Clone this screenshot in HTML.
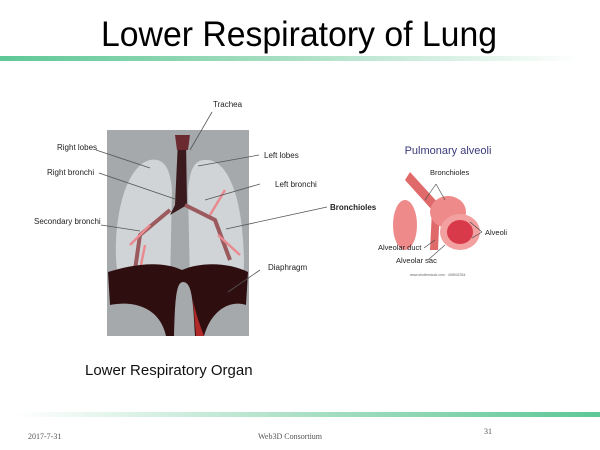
<!DOCTYPE html>
<html><head><meta charset="utf-8"><style>
html,body{margin:0;padding:0;background:#fff;}
body{width:600px;height:450px;overflow:hidden;position:relative;font-family:"Liberation Sans",sans-serif;}
</style></head><body>
<svg width="600" height="450" viewBox="0 0 600 450" xmlns="http://www.w3.org/2000/svg" style="position:absolute;left:0;top:0">
<defs>
<linearGradient id="g1" x1="0" x2="1"><stop offset="0" stop-color="#5ec896"/><stop offset="0.5" stop-color="#a9dfc4"/><stop offset="1" stop-color="#ffffff"/></linearGradient>
<linearGradient id="g2" x1="0" x2="1"><stop offset="0" stop-color="#ffffff"/><stop offset="0.5" stop-color="#a9dfc4"/><stop offset="1" stop-color="#5ec896"/></linearGradient>
</defs>
<text x="101" y="46" font-size="35" textLength="396" lengthAdjust="spacingAndGlyphs" fill="#000" font-family="Liberation Sans, DejaVu Sans, sans-serif">Lower Respiratory of Lung</text>
<rect x="0" y="56" width="580" height="5" fill="url(#g1)"/>
<rect x="15" y="412" width="585" height="5" fill="url(#g2)"/>

<!-- lung image -->
<rect x="107" y="130" width="142" height="206" fill="#a5a9ab"/>
<path d="M150,160 C130,165 118,200 116,240 C115,265 118,285 125,290 L170,285 L172,190 C170,165 162,158 150,160Z" fill="#d6d8da" opacity="0.9"/>
<path d="M205,160 C225,158 240,190 243,240 C245,265 244,285 238,290 L190,285 L188,190 C190,168 195,160 205,160Z" fill="#d6d8da" opacity="0.9"/>
<path d="M178,140 L186,138 L187,205 L170,215 L175,205Z" fill="#3a1a1c"/>
<path d="M175,135 L190,135 L188,150 L177,150Z" fill="#6a2a30"/>
<path d="M170,210 L140,235 L135,270 M185,205 L215,220 L230,260" stroke="#9a5a5e" stroke-width="4" fill="none"/>
<path d="M150,225 L130,245 M145,245 L138,280 M210,215 L225,190 M218,235 L240,255" stroke="#e88a90" stroke-width="2.5" fill="none"/>
<path d="M108,272 C140,262 165,262 182,270 C200,262 228,262 248,272 L246,305 C232,300 212,308 204,336 L195,336 C193,300 192,282 183,282 C176,282 175,300 174,336 L166,336 C160,308 135,300 110,305 Z" fill="#2f0e10"/>
<path d="M193,300 C196,315 200,325 204,336 L196,336Z" fill="#b02a2a"/>

<g stroke="#555" stroke-width="0.8" fill="none">
<line x1="212" y1="112" x2="190" y2="150"/>
<line x1="96" y1="150" x2="150" y2="168"/>
<line x1="99" y1="173" x2="175" y2="199"/>
<line x1="101" y1="225" x2="140" y2="231"/>
<line x1="259" y1="155" x2="198" y2="166"/>
<line x1="260" y1="184" x2="205" y2="200"/>
<line x1="327" y1="207" x2="226" y2="229"/>
<line x1="260" y1="270" x2="228" y2="292"/>
</g>
<g font-size="8" fill="#222">
<text x="213" y="107">Trachea</text>
<text x="57" y="150">Right lobes</text>
<text x="47" y="175">Right bronchi</text>
<text x="34" y="224">Secondary bronchi</text>
<text x="264" y="158">Left lobes</text>
<text x="275" y="187">Left  bronchi</text>
<text x="330" y="210" font-weight="bold">Bronchioles</text>
<text x="268" y="270">Diaphragm</text>
</g>

<!-- alveoli -->
<text x="448" y="154" text-anchor="middle" font-size="11" fill="#3a3a7a">Pulmonary alveoli</text>
<path d="M410,172 L440,205 L438,250 L430,250 L432,210 L405,180Z" fill="#e06a6a"/>
<ellipse cx="405" cy="225" rx="12" ry="25" fill="#ef8a8a"/>
<ellipse cx="448" cy="212" rx="18" ry="16" fill="#ef8a8a"/>
<ellipse cx="460" cy="232" rx="20" ry="18" fill="#f2a0a0"/>
<ellipse cx="460" cy="232" rx="13" ry="12" fill="#d83a4a"/>
<g stroke="#444" stroke-width="0.6" fill="none">
<line x1="436" y1="184" x2="425" y2="200"/><line x1="436" y1="184" x2="445" y2="200"/>
<line x1="482" y1="232" x2="470" y2="222"/><line x1="482" y1="232" x2="472" y2="238"/>
<line x1="424" y1="248" x2="435" y2="240"/><line x1="428" y1="260" x2="445" y2="245"/>
</g>
<g font-size="7.5" fill="#222">
<text x="430" y="175">Bronchioles</text>
<text x="485" y="235">Alveoli</text>
<text x="378" y="250">Alveolar duct</text>
<text x="396" y="263">Alveolar sac</text>
<text x="410" y="276" font-size="3.5" fill="#666">www.shutterstock.com · 408942334</text>
</g>

<text x="85" y="375" font-size="15" fill="#111">Lower Respiratory Organ</text>
<g font-family="Liberation Serif, serif" font-size="8" fill="#555">
<text x="28" y="439">2017-7-31</text>
<text x="258" y="439">Web3D Consortium</text>
<text x="484" y="434">31</text>
</g>
</svg>
</body></html>
